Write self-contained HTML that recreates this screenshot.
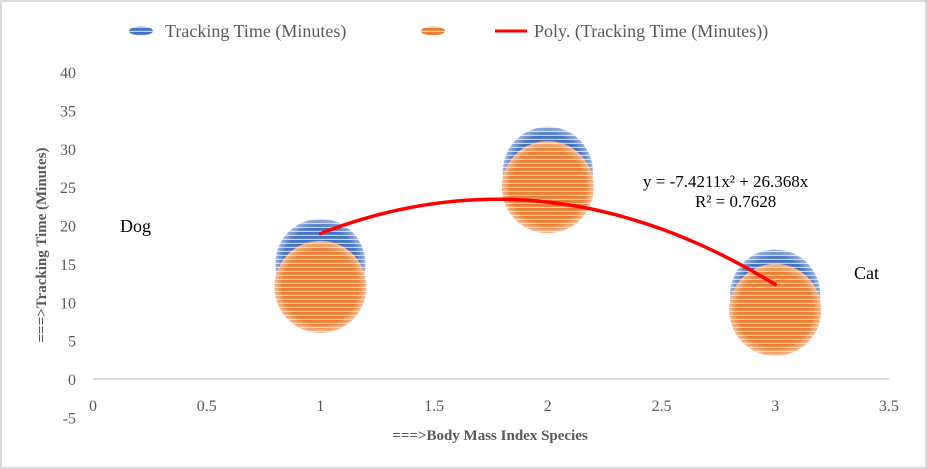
<!DOCTYPE html>
<html><head><meta charset="utf-8"><style>
body{margin:0;background:#fff}
svg{display:block;font-family:"Liberation Serif",serif}
</style></head><body>
<svg width="927" height="469">
<defs>
<pattern id="pb" width="4" height="4" patternUnits="userSpaceOnUse"><rect width="4" height="4" fill="#4472c4"/><rect y="2.8" width="4" height="1.2" fill="#c3d2ee"/></pattern>
<pattern id="po" width="4" height="4" patternUnits="userSpaceOnUse"><rect width="4" height="4" fill="#ed7d31"/><rect y="2.8" width="4" height="1.2" fill="#f8cdae"/></pattern>
<radialGradient id="rg"><stop offset="0.82" stop-color="#fff" stop-opacity="0"/><stop offset="1" stop-color="#fff" stop-opacity="0.45"/></radialGradient>
</defs>
<rect x="1" y="1" width="925" height="467" fill="#fff" stroke="#d9d9d9" stroke-width="2"/>
<g>
<ellipse cx="141" cy="31" rx="12" ry="4.5" fill="url(#pb)"/>
<text x="165" y="37" font-size="18" fill="#595959">Tracking Time (Minutes)</text>
<ellipse cx="433" cy="31" rx="12" ry="4.5" fill="url(#po)"/>
<line x1="495" y1="31" x2="527" y2="31" stroke="#ff0000" stroke-width="3"/>
<text x="534" y="37" font-size="18" fill="#595959">Poly. (Tracking Time (Minutes))</text>
</g>
<g id="axes"></g>
<g id="marks"></g>
<text x="643" y="187" font-size="17" fill="#000">y = -7.4211x² + 26.368x</text>
<text x="695" y="207" font-size="17" fill="#000">R² = 0.7628</text>
<text x="120" y="232" font-size="18" fill="#000">Dog</text>
<text x="854" y="279" font-size="18" fill="#000">Cat</text>
<text x="490" y="440" font-size="15" font-weight="bold" fill="#595959" text-anchor="middle">===&gt;Body Mass Index Species</text>
<text transform="translate(46,245) rotate(-90)" font-size="15" font-weight="bold" fill="#595959" text-anchor="middle">===&gt;Tracking Time (Minutes)</text>
</svg>
<script>
const xs=[1,2,3];
const blueVals=[15,27,11];
const orangeVals=[12,25,9];
const xTicks=[0,0.5,1,1.5,2,2.5,3,3.5];
const yTicks=[-5,0,5,10,15,20,25,30,35,40];
const polyA=-7.4211, polyB=26.368;
const X=v=>93+v*227.4, Y=v=>379-v*7.675;
const ns="http://www.w3.org/2000/svg";
const ax=document.getElementById('axes'), mk=document.getElementById('marks');
function mkEl(t,a,p){const e=document.createElementNS(ns,t);for(const k in a)e.setAttribute(k,a[k]);p.appendChild(e);return e;}
const zl=mkEl('line',{x1:X(0),x2:X(3.5),y1:Y(0),y2:Y(0),stroke:'#d9d9d9','stroke-width':2},ax);


xTicks.forEach(t=>{const e=mkEl('text',{x:X(t),y:411,'font-size':16,fill:'#595959','text-anchor':'middle'},ax);e.textContent=t;

});
yTicks.forEach(t=>{const e=mkEl('text',{x:76,y:Y(t)+6,'font-size':16,fill:'#595959','text-anchor':'end'},ax);e.textContent=t;

});
xs.forEach((x,i)=>{
const b=mkEl('circle',{cx:X(x),cy:Y(blueVals[i]),r:45,fill:'url(#pb)'},mk);


mkEl('circle',{cx:X(x),cy:Y(blueVals[i]),r:45,fill:'url(#rg)'},mk);
});
xs.forEach((x,i)=>{
const o=mkEl('circle',{cx:X(x),cy:Y(orangeVals[i]),r:46,fill:'url(#po)'},mk);


mkEl('circle',{cx:X(x),cy:Y(orangeVals[i]),r:46,fill:'url(#rg)'},mk);
});
let d='';for(let i=0;i<=40;i++){const x=1+i*0.05;const y=polyA*x*x+polyB*x;d+=(i?'L':'M')+X(x).toFixed(1)+','+Y(y).toFixed(1);}
const tl=mkEl('path',{d:d,fill:'none',stroke:'#ff0000','stroke-width':3.5,'stroke-linecap':'round'},mk);


</script>
</body></html>
